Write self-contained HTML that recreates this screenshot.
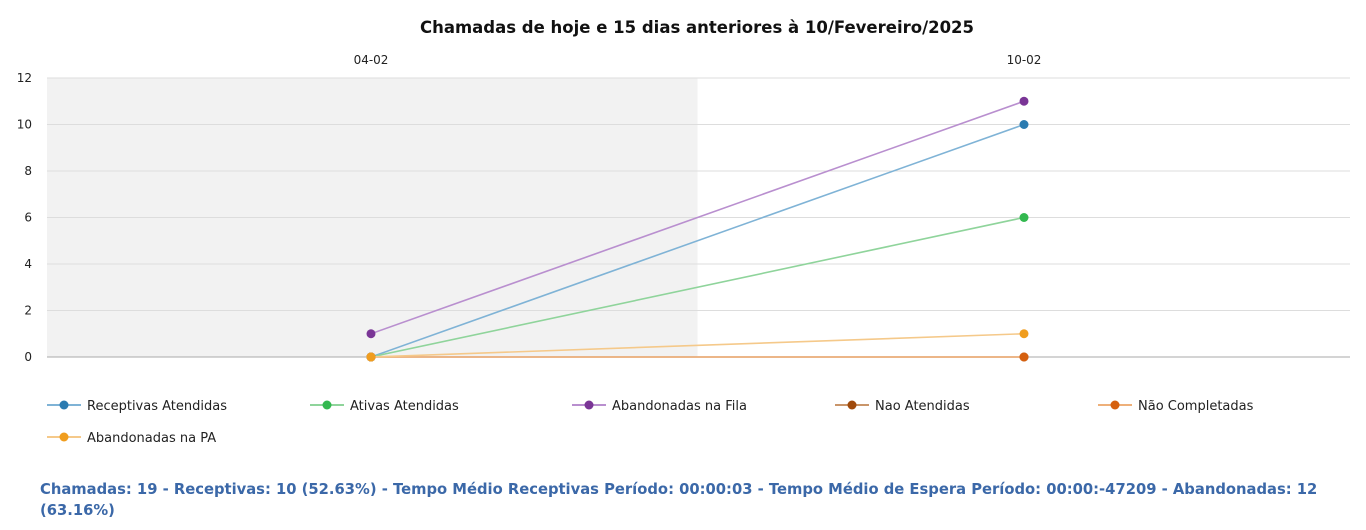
<!DOCTYPE html>
<html><head><meta charset="utf-8"><style>
body{margin:0;width:1366px;height:530px;background:#fff;font-family:"DejaVu Sans","Liberation Sans",sans-serif;overflow:hidden}
svg{position:absolute;left:0;top:0;font-family:"DejaVu Sans","Liberation Sans",sans-serif}
#footer{position:absolute;left:40px;top:479px;width:1300px;color:#3b68a8;font-weight:bold;font-size:14.75px;line-height:21px}
</style></head><body>
<svg id="chart" width="1366" height="470"></svg>
<div id="footer">Chamadas: 19 - Receptivas: 10 (52.63%) - Tempo Médio Receptivas Período: 00:00:03 - Tempo Médio de Espera Período: 00:00:-47209 - Abandonadas: 12 (63.16%)</div>
<script>
const categories=["04-02","10-02"];
const seriesNames=["Receptivas Atendidas","Ativas Atendidas","Abandonadas na Fila","Nao Atendidas","Não Completadas","Abandonadas na PA"];
const receptivas=[0,10];
const ativas=[0,6];
const abandFila=[1,11];
const naoAtendidas=[0,0];
const naoCompletadas=[0,0];
const abandPA=[0,1];
const yTicks=[0,2,4,6,8,10,12];
const series=[receptivas,ativas,abandFila,naoAtendidas,naoCompletadas,abandPA];
const colors=["#2b7bb0","#33b84f","#7a3596","#a04a0c","#d5600f","#f09d1e"];
const lineColors=["#7fb3d6","#8fd49b","#b98fcf","#c9956a","#eeb07a","#f5c98a"];
const ns="http://www.w3.org/2000/svg";
const svg=document.getElementById('chart');
const X0=47,X1=1350,Y0=357,Y1=78;
const y=v=>Y0-(v/12)*(Y0-Y1);
const xs=[371,1024];
const x=i=>xs[0]+i*(xs[1]-xs[0])/(categories.length-1);
function el(t,a,p){const e=document.createElementNS(ns,t);for(const k in a)e.setAttribute(k,a[k]);(p||svg).appendChild(e);return e;}
const bg=el('rect',{x:X0,y:Y1,width:(x(0)+x(1))/2-X0,height:Y0-Y1,fill:"#f2f2f2"});


const t=el('text',{x:697,y:33,'text-anchor':'middle','font-size':16.5,'font-weight':'bold',fill:'#111'});
t.textContent="Chamadas de hoje e 15 dias anteriores à 10/Fevereiro/2025";


yTicks.forEach(v=>{
 const g=el('line',{x1:X0,x2:X1,y1:y(v),y2:y(v),stroke:v==0?'#aaa':'#ddd','stroke-width':1});
 
 
 const l=el('text',{x:32,y:y(v)+4,'text-anchor':'end','font-size':12,fill:'#222'});l.textContent=v;
 
 
});
categories.forEach((c,i)=>{
 const l=el('text',{x:x(i),y:64,'text-anchor':'middle','font-size':12,fill:'#222'});l.textContent=c;
 
 
});
series.forEach((s,k)=>{
 const pl=el('polyline',{points:s.map((v,i)=>x(i)+','+y(v)).join(' '),fill:'none',stroke:lineColors[k],'stroke-width':1.6});
 
 
});
series.forEach((s,k)=>{
 s.forEach((v,i)=>{
  const c=el('circle',{cx:x(i),cy:y(v),r:4.5,fill:colors[k]});
  
  
 });
});
const lx=[47,310,572,835,1098,47],ly=[405,405,405,405,405,437];
seriesNames.forEach((n,k)=>{
 const g=el('g',{});
 
 
 el('line',{x1:lx[k],x2:lx[k]+34,y1:ly[k],y2:ly[k],stroke:lineColors[k],'stroke-width':2},g);
 el('circle',{cx:lx[k]+17,cy:ly[k],r:4.5,fill:colors[k]},g);
 const tx=el('text',{x:lx[k]+40,y:ly[k]+5,'font-size':13,fill:'#222'},g);tx.textContent=n;
});
</script>
</body></html>
